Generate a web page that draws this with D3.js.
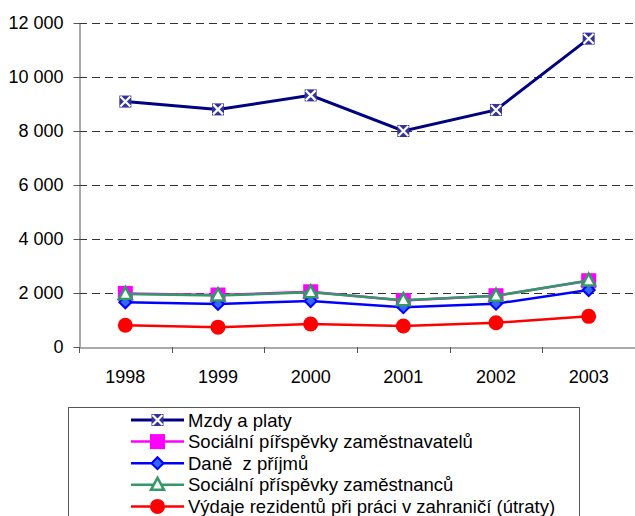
<!DOCTYPE html>
<html><head><meta charset="utf-8">
<script src="https://cdn.jsdelivr.net/npm/d3@7"></script>
<style>body{margin:0;background:#fff}svg{display:block;font-family:"Liberation Sans",Arial,sans-serif}</style>
</head><body><svg id="c" width="635" height="516"></svg>
<script>
const years = ["1998","1999","2000","2001","2002","2003"];
const yTicks = [0,2000,4000,6000,8000,10000,12000];
const mzdy = [9090,8800,9320,8000,8780,11420];
const socZamestnavatelu = [1985,1925,2045,1720,1900,2455];
const dane = [1655,1595,1705,1475,1605,2110];
const socZamestnancu = [1960,1910,2025,1735,1895,2460];
const vydaje = [805,735,850,780,900,1135];
const seriesNames = ["Mzdy a platy","Sociální pířspěvky zaměstnavatelů","Daně  z příjmů","Sociální příspěvky zaměstnanců","Výdaje rezidentů při práci v zahraničí (útraty)"];

const series = [
  {name:seriesNames[0], values:mzdy, color:"#000080", marker:"xsq"},
  {name:seriesNames[1], values:socZamestnavatelu, color:"#FF00FF", marker:"square"},
  {name:seriesNames[2], values:dane, color:"#0000FF", marker:"diamond"},
  {name:seriesNames[3], values:socZamestnancu, color:"#339966", marker:"triangle"},
  {name:seriesNames[4], values:vydaje, color:"#FF0000", marker:"circle"}
];

const svg = d3.select("#c");
const L=79, R=635, T=23, B=347;
const x = d3.scaleBand().domain(years).range([L,R]);
const y = d3.scaleLinear().domain([0,12000]).range([B,T]);
const fmt = v => d3.format(",")(v).replace(/,/g," ");

// gridlines
svg.append("g").selectAll("line").data(yTicks.filter(d=>d>0)).join("line")
  .attr("x1",L).attr("x2",R).attr("y1",d=>y(d)+0.5).attr("y2",d=>y(d)+0.5)
  .attr("stroke","#333").attr("stroke-width",1).attr("stroke-dasharray","8,5");

// y axis
const ya = svg.append("g").attr("transform",`translate(${L+0.5},0)`)
  .call(d3.axisLeft(y).tickValues(yTicks).tickFormat(fmt).tickSize(6).tickSizeOuter(0));
ya.select(".domain").attr("stroke","#555");
ya.selectAll(".tick line").attr("stroke","#555");
ya.selectAll(".tick text").attr("font-size",18).attr("fill","#000").attr("x",-16)
  .attr("font-family","Liberation Sans, Arial, sans-serif");

// x axis
const xa = svg.append("g").attr("transform",`translate(0,${B+0.5})`)
  .call(d3.axisBottom(x).tickSize(0).tickSizeOuter(0));
xa.select(".domain").attr("stroke","#555");
xa.selectAll(".tick text").attr("font-size",18).attr("fill","#000").attr("dy",0).attr("y",35)
  .attr("font-family","Liberation Sans, Arial, sans-serif");
svg.append("g").selectAll("line").data(years).join("line")
  .attr("x1",d=>Math.round(x(d))+0.5).attr("x2",d=>Math.round(x(d))+0.5)
  .attr("y1",B).attr("y2",B+6).attr("stroke","#555");

function drawMarker(g, type, color){
  if(type==="xsq"){
    g.append("rect").attr("x",-6).attr("y",-6).attr("width",12).attr("height",12).attr("fill","#333399");
    g.append("path").attr("d","M-5,-5L5,5M-5,5L5,-5").attr("stroke","#fff").attr("stroke-width",2.2);
  } else if(type==="square"){
    g.append("rect").attr("x",-7.5).attr("y",-7.5).attr("width",15).attr("height",15).attr("fill",color);
  } else if(type==="diamond"){
    g.append("path").attr("d","M0,-6L6,0L0,6L-6,0Z").attr("fill","#3366FF").attr("stroke",color).attr("stroke-width",2);
  } else if(type==="triangle"){
    g.append("path").attr("d","M0,-7L6.5,5L-6.5,5Z").attr("fill","#fff").attr("stroke",color).attr("stroke-width",2.5);
  } else if(type==="circle"){
    g.append("circle").attr("r",7.5).attr("fill",color);
  }
}

const line = d3.line().x((d,i)=>x(years[i])+x.bandwidth()/2).y(d=>y(d));
series.forEach(s=>{
  svg.append("path").datum(s.values).attr("d",line).attr("fill","none")
    .attr("stroke",s.color).attr("stroke-width",s.marker==="xsq"?3:2.5);
  s.values.forEach((v,i)=>{
    const g = svg.append("g").attr("transform",`translate(${x(years[i])+x.bandwidth()/2},${y(v)})`);
    drawMarker(g,s.marker,s.color);
  });
});

// legend
const lg = svg.append("g");
lg.append("rect").attr("x",68.5).attr("y",407.5).attr("width",511).attr("height",130)
  .attr("fill","#fff").attr("stroke","#555");
series.forEach((s,i)=>{
  const yy = 420 + i*21.6;
  lg.append("line").attr("x1",131).attr("x2",184).attr("y1",yy).attr("y2",yy)
    .attr("stroke",s.color).attr("stroke-width",s.marker==="xsq"?3:2.5);
  drawMarker(lg.append("g").attr("transform",`translate(157.5,${yy})`), s.marker, s.color);
  lg.append("text").attr("x",188).attr("y",yy+6.5).attr("font-size",18.5)
    .style("white-space","pre").attr("xml:space","preserve").text(s.name);
});
</script></body></html>
